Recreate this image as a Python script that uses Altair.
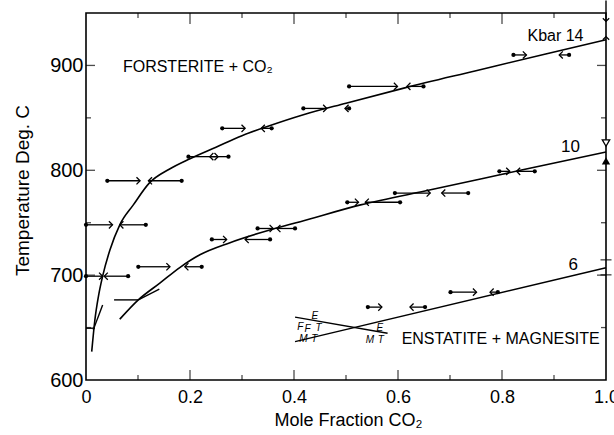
import altair as alt
import pandas as pd

FONT = "Liberation Sans"

# ---- phase boundary curves (mole fraction CO2, temperature deg C) ----
c14_x = [0.011, 0.017, 0.024, 0.032, 0.046, 0.065, 0.091, 0.122, 0.160, 0.200,
         0.250, 0.300, 0.350, 0.418, 0.500, 0.613, 0.750, 0.880, 1.0]
c14_t = [627, 657, 680, 699, 724, 748, 767, 788, 801, 811,
         822, 833, 842, 853, 864, 878.6, 895, 910.5, 924.5]

c10_x = [0.065, 0.1006, 0.142, 0.181, 0.219, 0.277, 0.360, 0.412, 0.528,
         0.665, 0.796, 0.912, 1.0]
c10_t = [658, 676.4, 692.4, 707.5, 719.4, 731, 744, 751, 767,
         781.6, 795.7, 808.2, 817.5]

# straight boundaries and short construction segments
seg_id = ["6kb", "6kb", "fe", "fe", "s1", "s1", "s2", "s2", "s3", "s3", "s4", "s4"]
seg_x = [0.402, 1.0, 0.402, 0.580, 0.014, 0.032, 0.054, 0.1006, 0.1006, 0.141, 0.0, 0.017]
seg_t = [636.6, 707, 660, 644.6, 647.8, 671.6, 676.4, 676.4, 676.4, 686.6, 649.4, 649.4]

# ---- reversal brackets: temperature, starting composition, final composition ----
br_t = [790, 790, 748, 748, 699, 699, 813, 813, 840, 840, 859, 859, 880, 880, 910, 910,
        708, 708, 734, 734, 744.5, 744.5, 769.5, 769.5, 778.3, 778.3, 799, 799,
        669.5, 669.5, 683.8, 683.8]
br_dot = [0.041, 0.184, 0.0, 0.115, 0.0, 0.081, 0.197, 0.274, 0.262, 0.357, 0.418, 0.506,
          0.506, 0.649, 0.822, 0.929,
          0.1006, 0.2225, 0.242, 0.354, 0.330, 0.402, 0.5025, 0.604, 0.594, 0.735,
          0.795, 0.863,
          0.542, 0.652, 0.701, 0.792]
br_head = [0.104, 0.120, 0.051, 0.065, 0.032, 0.035, 0.254, 0.238, 0.306, 0.337, 0.463, 0.498,
           0.599, 0.617, 0.847, 0.910,
           0.1615, 0.190, 0.2705, 0.306, 0.360, 0.367, 0.524, 0.537, 0.662, 0.684,
           0.815, 0.828,
           0.569, 0.623, 0.751, 0.777]

# brackets on the pure CO2 side
pure_down_t = [942]        # open chevron pointing down
pure_up_t = [927.5]        # open chevron pointing up
open_tri_t = [826]
fill_tri_t = [809]
ibar_t = [714.6, 700.3]
lead_t = [962, 942]

# ---- labels ----
lab_text = ["FORSTERITE + CO\u2082", "ENSTATITE + MAGNESITE", "Kbar 14"]
lab_x = [0.071, 0.607, 0.849]
lab_t = [894.2, 634.4, 923]
num_text = ["10", "6"]
num_x = [0.950, 0.946]
num_t = [817, 705]
small_text = ["E", "F", "F", "T", "M", "T", "E", "M", "T"]
small_x = [0.440, 0.412, 0.426, 0.447, 0.418, 0.439, 0.565, 0.546, 0.567]
small_t = [658, 648, 645.5, 646.5, 636, 636, 646.5, 635, 635]

# ---- axis ticks ----
x_major = [0.2, 0.4, 0.6, 0.8]
x_minor = [0.1, 0.3, 0.5, 0.7, 0.9]
y_major = [700, 800, 900]
y_minor = [650, 750, 850]

W, H = 520, 367
xs = alt.Scale(domain=[0, 1.0], nice=False, zero=False)
ys = alt.Scale(domain=[600, 950], nice=False, zero=False)

x_axis = alt.Axis(values=[0, 0.2, 0.4, 0.6, 0.8, 1.0], ticks=False, domain=False, grid=False,
                  labelExpr="datum.value == 0 ? '0' : format(datum.value, '.1f')",
                  labelFont=FONT, labelFontSize=18, labelColor="black", labelPadding=8,
                  labelFlush=False,
                  title="Mole  Fraction  CO\u2082", titleFont=FONT, titleFontSize=18,
                  titleFontWeight="normal", titleColor="black",
                  titleX=262, titleY=45, titleAlign="center", titleBaseline="alphabetic")
y_axis = alt.Axis(values=[600, 700, 800, 900], ticks=False, domain=False, grid=False,
                  labelFont=FONT, labelFontSize=20, labelColor="black", labelPadding=3,
                  labelFlush=False,
                  title="Temperature  Deg. C", titleFont=FONT, titleFontSize=19,
                  titleFontWeight="normal", titleColor="black",
                  titleX=-58, titleY=177, titleAngle=270, titleAlign="center",
                  titleBaseline="alphabetic")


def X(f):
    return alt.X(f, type="quantitative", scale=xs, axis=x_axis)


def Y(f):
    return alt.Y(f, type="quantitative", scale=ys, axis=y_axis)


curves = pd.DataFrame({
    "x": c14_x + c10_x,
    "t": c14_t + c10_t,
    "curve": ["14"] * len(c14_x) + ["10"] * len(c10_x),
})
segs = pd.DataFrame({"x": seg_x, "t": seg_t, "seg": seg_id})
brk = pd.DataFrame({"t": br_t, "dot": br_dot, "head": br_head})
brk["dir"] = ["r" if h > d else "l" for d, h in zip(br_dot, br_head)]

ink = "black"

curve_layer = alt.Chart(curves).mark_line(
    color=ink, strokeWidth=1.6, interpolate="monotone"
).encode(x=X("x"), y=Y("t"), detail="curve:N", order="x:Q")

seg_layer = alt.Chart(segs).mark_line(color=ink, strokeWidth=1.4).encode(
    x=X("x"), y=Y("t"), detail="seg:N")

br_rule = alt.Chart(brk).mark_rule(color=ink, strokeWidth=1.3).encode(
    x=X("dot"), x2="head", y=Y("t"))
br_dot_layer = alt.Chart(brk).mark_point(
    filled=True, color=ink, size=18, opacity=1, shape="circle"
).encode(x=X("dot"), y=Y("t"))
br_head_layer = alt.Chart(brk).mark_point(
    filled=False, color=ink, strokeWidth=1.3, opacity=1, size=52
).encode(
    x=X("head"), y=Y("t"),
    shape=alt.Shape("dir:N", legend=None,
                    scale=alt.Scale(domain=["r", "l"],
                                    range=["M-1,-1L0,0L-1,1", "M1,-1L0,0L1,1"])))

pure = pd.DataFrame({"x": [1.0] * len(lead_t), "t": lead_t})
lead_layer = alt.Chart(pure).mark_line(color=ink, strokeWidth=1.4).encode(
    x=X("x"), y=Y("t"))
down_layer = alt.Chart(pd.DataFrame({"x": [1.0], "t": pure_down_t})).mark_point(
    shape="M-1,-1L0,0L1,-1", filled=False, color=ink, strokeWidth=1.3, opacity=1, size=40
).encode(x=X("x"), y=Y("t"))
up_layer = alt.Chart(pd.DataFrame({"x": [1.0], "t": pure_up_t})).mark_point(
    shape="M-1,1L0,0L1,1", filled=False, color=ink, strokeWidth=1.3, opacity=1, size=40
).encode(x=X("x"), y=Y("t"))
open_tri = alt.Chart(pd.DataFrame({"x": [1.0], "t": open_tri_t})).mark_point(
    shape="triangle-down", filled=True, fill="white", stroke=ink, strokeWidth=1.3,
    opacity=1, size=55
).encode(x=X("x"), y=Y("t"))
fill_tri = alt.Chart(pd.DataFrame({"x": [1.0], "t": fill_tri_t})).mark_point(
    shape="triangle-up", filled=True, color=ink, opacity=1, size=70
).encode(x=X("x"), y=Y("t"))
ibar = alt.Chart(pd.DataFrame({"x": [1.0] * 2, "t": ibar_t})).mark_tick(
    orient="horizontal", size=11, thickness=1.4, color=ink
).encode(x=X("x"), y=Y("t"))

labels = alt.Chart(pd.DataFrame({"x": lab_x, "t": lab_t, "s": lab_text})).mark_text(
    font=FONT, fontSize=16, align="left", baseline="alphabetic", color=ink
).encode(x=X("x"), y=Y("t"), text="s:N")
nums = alt.Chart(pd.DataFrame({"x": num_x, "t": num_t, "s": num_text})).mark_text(
    font=FONT, fontSize=17, align="right", baseline="alphabetic", color=ink
).encode(x=X("x"), y=Y("t"), text="s:N")
smalls = alt.Chart(pd.DataFrame({"x": small_x, "t": small_t, "s": small_text})).mark_text(
    font=FONT, fontSize=10, fontStyle="italic", align="center", baseline="alphabetic",
    color=ink
).encode(x=X("x"), y=Y("t"), text="s:N")

# inward-pointing ticks on all four sides of the frame
def xticks(vals, length, top):
    return alt.Chart(pd.DataFrame({"v": vals})).mark_tick(
        orient="vertical", size=length, thickness=1.3, color=ink,
        yOffset=(length / 2 if top else -length / 2)
    ).encode(x=X("v"), y=alt.value(0 if top else H))


def yticks(vals, length, right):
    return alt.Chart(pd.DataFrame({"v": vals})).mark_tick(
        orient="horizontal", size=length, thickness=1.3, color=ink,
        xOffset=(-length / 2 if right else length / 2)
    ).encode(y=Y("v"), x=alt.value(W if right else 0))


ticks = [
    xticks(x_major, 10, False), xticks(x_minor, 5, False),
    xticks(x_major, 11, True), xticks(x_minor, 5, True),
    yticks(y_major, 9, False), yticks(y_minor, 5, False),
    yticks(y_major, 9, True), yticks(y_minor, 5, True),
]

chart = alt.layer(
    curve_layer, seg_layer, br_rule, br_head_layer, br_dot_layer,
    lead_layer, down_layer, up_layer, open_tri, fill_tri, ibar,
    labels, nums, smalls, *ticks
).properties(
    width=W, height=H,
    autosize=alt.AutoSizeParams(type="none"),
    padding={"left": 86, "top": 13, "right": 8, "bottom": 55},
    background="white",
).configure_view(stroke=ink, strokeWidth=1.6)

chart.save("out.html", embed_options={"renderer": "svg", "actions": False})
